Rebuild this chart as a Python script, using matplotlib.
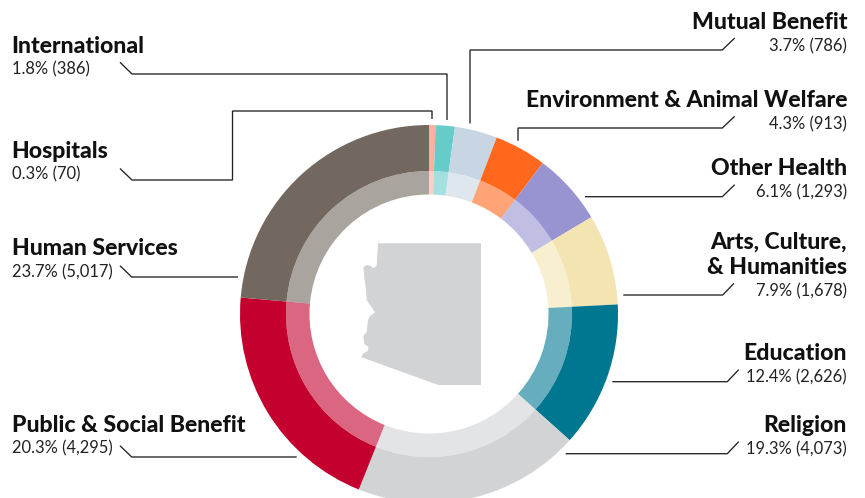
#!/usr/bin/env python3
"""Arizona nonprofits by sector - double ring donut with leader lines."""

import matplotlib
matplotlib.use('Agg')
import matplotlib.pyplot as plt
from matplotlib.patches import Polygon

plt.rcParams['font.family'] = ['Lato', 'DejaVu Sans']

# clockwise from 12 o'clock
sectors = ['Hospitals', 'International', 'Mutual Benefit', 'Environment & Animal Welfare',
           'Other Health', 'Arts, Culture,\n& Humanities', 'Education', 'Religion',
           'Public & Social Benefit', 'Human Services']
shares = [0.3, 1.8, 3.7, 4.3, 6.1, 7.9, 12.4, 19.3, 20.3, 23.7]
counts = [70, 386, 786, 913, 1293, 1678, 2626, 4073, 4295, 5017]
# slice sweep as drawn in the picture, degrees
sweeps = [2.0, 5.9, 13.1, 16.0, 22.2, 27.9, 44.8, 69.9, 73.2, 85.0]
colors = ['#FFAE9F', '#66CCCA', '#C8D6E4', '#FF681D', '#9894D2',
          '#F4E4B2', '#007791', '#D1D3D4', '#C4002F', '#72685F']

# canvas is in reference pixels, y going down
W, H = 865, 498
fig = plt.figure(figsize=(W / 100, H / 100), dpi=100)
ax = fig.add_axes([0, 0, 1, 1])

center = (429, 314)
ax.pie(sweeps, colors=colors, radius=189, center=center, startangle=-90,
       wedgeprops=dict(width=46, linewidth=0))
ax.pie(sweeps, colors=colors, radius=143, center=center, startangle=-90,
       wedgeprops=dict(width=23.5, linewidth=0, alpha=0.6))
ax.set_xlim(0, W)
ax.set_ylim(H, 0)
ax.axis('off')

# state outline
arizona = [(378, 243.3), (481, 243.3), (481, 385), (438.3, 385), (361.7, 357.3), (362.7, 354),
           (368, 350.7), (368.3, 346.7), (364.3, 344), (363.3, 336), (366.7, 331.7), (368, 320),
           (370, 316), (375, 312.3), (371.7, 307.3), (366.7, 300), (366, 290), (364.7, 280),
           (363.3, 267.3), (366.7, 265), (371, 266), (373.3, 268.3), (376.7, 266)]
ax.add_patch(Polygon(arizona, closed=True, facecolor='#D1D3D4', edgecolor='none'))

# leader lines
leaders = [
    [(120, 168.5), (132, 180), (232.5, 180), (232.5, 111), (432, 111), (432, 119)],
    [(120, 62.3), (132, 74), (447, 74), (447, 120)],
    [(734.7, 38), (722.3, 50), (470, 50), (470, 123.5)],
    [(734.7, 116.3), (722.3, 128), (518, 128), (518, 140.7)],
    [(734.7, 184.7), (722.3, 196.7), (585, 196.7)],
    [(734, 283.3), (722.7, 295), (623.3, 295)],
    [(738.7, 369.7), (727.3, 381.7), (612.3, 381.7)],
    [(738.7, 441.7), (727.3, 453.7), (565.7, 453.7)],
    [(120, 445.7), (131.7, 457), (296.7, 457)],
    [(120, 265.7), (131.7, 277), (238, 277)],
]
for pts in leaders:
    ax.plot([p[0] for p in pts], [p[1] for p in pts], color='#222222', lw=0.95,
            solid_joinstyle='miter', solid_capstyle='butt')

# label anchors: x, title baseline, value baseline, alignment
anchors = [
    (11.5, 158, 179, 'left'),
    (11.5, 53, 74, 'left'),
    (847, 29.3, 51, 'right'),
    (847, 107, 129, 'right'),
    (847, 175, 197, 'right'),
    (847, 274.3, 296, 'right'),
    (847, 360, 382, 'right'),
    (847, 432, 454, 'right'),
    (11.5, 432, 453, 'left'),
    (11.5, 255, 277, 'left'),
]
for name, pct, n, (x, y1, y2, ha) in zip(sectors, shares, counts, anchors):
    ax.text(x, y1, name, fontsize=16.6, fontweight='black', color='#111111', ha=ha, va='baseline',
            multialignment=ha, linespacing=1.28)
    ax.text(x, y2, f'{pct}% ({n:,})', fontsize=11.9, color='#222222', ha=ha, va='baseline')

fig.savefig('out.png', dpi=100, facecolor='white')
